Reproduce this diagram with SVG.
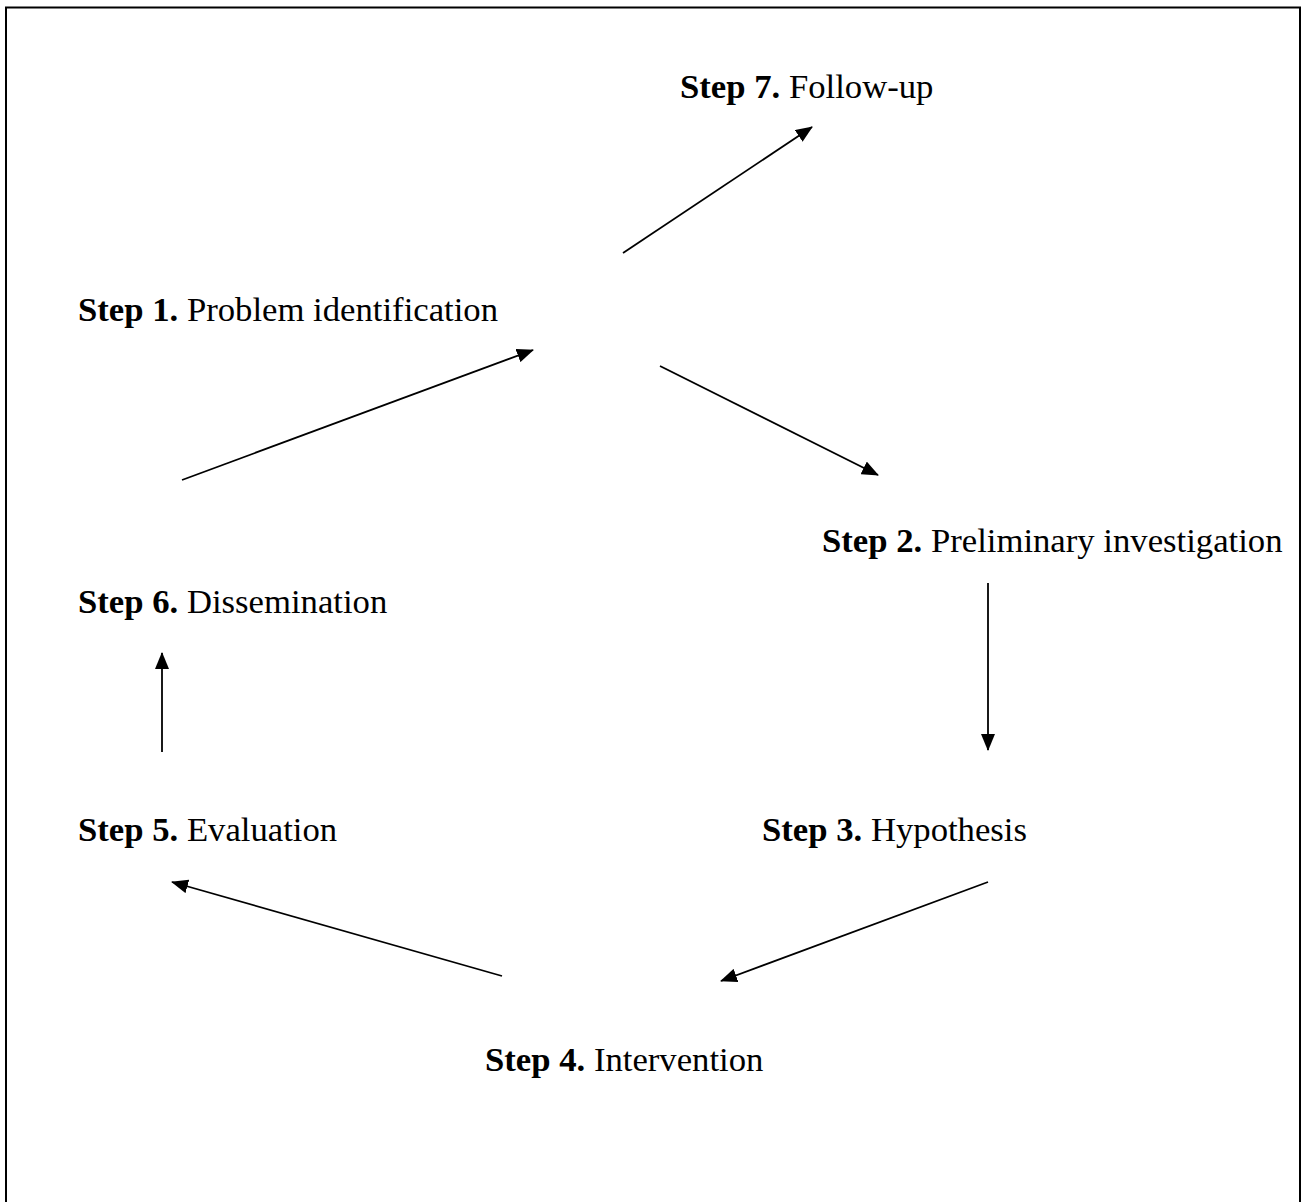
<svg xmlns="http://www.w3.org/2000/svg" width="1303" height="1202" viewBox="0 0 1303 1202">
<defs>
<marker id="ah" markerWidth="17" markerHeight="14" refX="16" refY="7" orient="auto" markerUnits="userSpaceOnUse" viewBox="0 0 17 14">
<path d="M0,0 L17,7 L0,14 Z" fill="#000"/>
</marker>
<style>
.lbl{font-family:"Liberation Serif","Times New Roman",serif;font-size:34.7px;fill:#000}
.b{font-weight:bold}
.c{stroke:#000;stroke-width:1.8;fill:none;marker-end:url(#ah)}
</style>
</defs>
<rect x="0" y="0" width="1303" height="1202" fill="#fff"/>
<path d="M6,1210 L6,7.5 L1300,7.5 L1300,1210" fill="none" stroke="#000" stroke-width="2"/>
<g id="step7"><text class="lbl" x="680" y="98"><tspan class="b">Step 7.</tspan> Follow-up</text></g>
<g id="step1"><text class="lbl" x="78" y="321"><tspan class="b">Step 1.</tspan> Problem identification</text></g>
<g id="step2"><text class="lbl" x="822" y="552"><tspan class="b">Step 2.</tspan> Preliminary investigation</text></g>
<g id="step6"><text class="lbl" x="78" y="613"><tspan class="b">Step 6.</tspan> Dissemination</text></g>
<g id="step5"><text class="lbl" x="78" y="841"><tspan class="b">Step 5.</tspan> Evaluation</text></g>
<g id="step3"><text class="lbl" x="762" y="841"><tspan class="b">Step 3.</tspan> Hypothesis</text></g>
<g id="step4"><text class="lbl" x="485" y="1071"><tspan class="b">Step 4.</tspan> Intervention</text></g>
<g id="connectors">
<line class="c" x1="623" y1="253" x2="812" y2="127"/>
<line class="c" x1="182" y1="480" x2="533" y2="350"/>
<line class="c" x1="660" y1="366" x2="878" y2="475"/>
<line class="c" x1="988" y1="583" x2="988" y2="750"/>
<line class="c" x1="988" y1="882" x2="721" y2="981"/>
<line class="c" x1="502" y1="976" x2="172" y2="882"/>
<line class="c" x1="162" y1="752" x2="162" y2="653"/>
</g>
</svg>
